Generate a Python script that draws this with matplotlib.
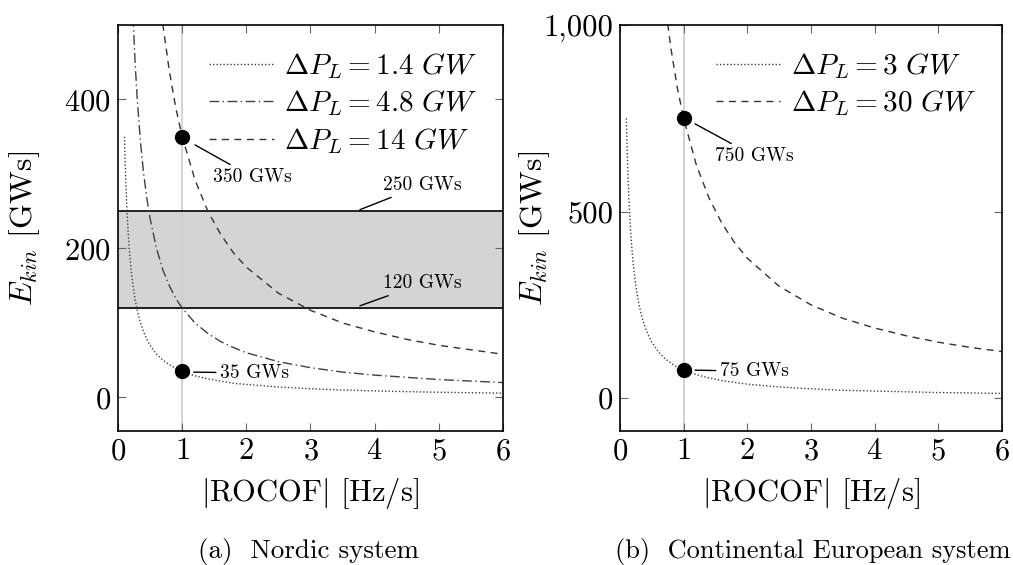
import matplotlib
matplotlib.use("Agg")
import matplotlib.pyplot as plt

plt.rcParams['font.family'] = 'serif'
plt.rcParams['font.serif'] = ['cmr10', 'DejaVu Serif']
plt.rcParams['mathtext.fontset'] = 'cm'
plt.rcParams['axes.formatter.use_mathtext'] = True

# |ROCOF| sample points [Hz/s]
rocof = [0.1, 0.12, 0.14, 0.16, 0.18, 0.2, 0.22, 0.24, 0.27, 0.3, 0.35, 0.4, 0.45, 0.5,
         0.6, 0.7, 0.8, 0.9, 1.0, 1.2, 1.4, 1.6, 1.8, 2.0, 2.5, 3.0, 3.5, 4.0, 4.5, 5.0, 5.5, 6.0]

# Nordic system, E_kin [GWs]
nordic_1_4 = [350, 292, 250, 219, 194, 175, 159, 146, 130, 117, 100, 88, 78, 70,
              58, 50, 44, 39, 35, 29, 25, 22, 19, 17.5, 14, 11.7, 10, 8.8, 7.8, 7, 6.4, 5.8]
nordic_4_8 = [1200, 1000, 857, 750, 667, 600, 545, 500, 444, 400, 343, 300, 267, 240,
              200, 171, 150, 133, 120, 100, 86, 75, 67, 60, 48, 40, 34, 30, 27, 24, 22, 20]
nordic_14 = [3500, 2917, 2500, 2188, 1944, 1750, 1591, 1458, 1296, 1167, 1000, 875, 778, 700,
             583, 500, 438, 389, 350, 292, 250, 219, 194, 175, 140, 117, 100, 88, 78, 70, 64, 58]

# Continental European system, E_kin [GWs]
ce_3 = [750, 625, 536, 469, 417, 375, 341, 313, 278, 250, 214, 188, 167, 150,
        125, 107, 94, 83, 75, 63, 54, 47, 42, 37.5, 30, 25, 21, 19, 17, 15, 14, 12.5]
ce_30 = [7500, 6250, 5357, 4688, 4167, 3750, 3409, 3125, 2778, 2500, 2143, 1875, 1667, 1500,
         1250, 1071, 938, 833, 750, 625, 536, 469, 417, 375, 300, 250, 214, 188, 167, 150, 136, 125]

band = [120, 250]
nordic_pts = [35, 350]
ce_pts = [75, 750]

fig = plt.figure(figsize=(10.13, 5.65), dpi=100)
ax1 = fig.add_axes([0.1165, 0.2372, 0.38, 0.7186])
ax2 = fig.add_axes([0.612, 0.2372, 0.377, 0.7186])

tick_fs = 22
lab_fs = 22

dotted = (0, (1, 1.5))
dashdot = (0, (7, 2.5, 1, 2.5))
dashed = (0, (5, 4))

leg = dict(loc='upper right', frameon=False, fontsize=21, handlelength=2.2,
           borderaxespad=0.6, borderpad=0.3, labelspacing=0.25, handletextpad=0.35)

# ---- (a) Nordic
ax1.axhspan(band[0], band[1], color='0.83', zorder=0)
ax1.axhline(band[0], color='black', lw=1.2)
ax1.axhline(band[1], color='black', lw=1.2)
ax1.axvline(1, color='0.8', lw=1.2, zorder=1)
ax1.plot(rocof, nordic_1_4, ls=dotted, color='0.25', lw=1, label=r'$\Delta P_L = 1.4\ GW$')
ax1.plot(rocof, nordic_4_8, ls=dashdot, color='0.25', lw=1, label=r'$\Delta P_L = 4.8\ GW$')
ax1.plot(rocof, nordic_14, ls=dashed, color='0.2', lw=1, label=r'$\Delta P_L = 14\ GW$')
ax1.plot([1, 1], nordic_pts, 'o', color='black', ms=10, zorder=5)
ax1.set_xlim(0, 6)
ax1.set_ylim(-45, 500)
ax1.set_yticks([0, 200, 400])
ax1.legend(**leg)

ann = dict(fontsize=14, ha='left', va='center',
           arrowprops=dict(arrowstyle='-', color='black', lw=1, shrinkA=1, shrinkB=0))
ax1.annotate('350 GWs', xy=(1.2, 339), xytext=(1.48, 296), **ann)
ax1.annotate('35 GWs', xy=(1.18, 34), xytext=(1.59, 33), **ann)
ax1.annotate('250 GWs', xy=(3.77, 252), xytext=(4.13, 285), **ann)
ax1.annotate('120 GWs', xy=(3.77, 123), xytext=(4.13, 153), **ann)

# ---- (b) Continental European
ax2.axvline(1, color='0.8', lw=1.2, zorder=1)
ax2.plot(rocof, ce_3, ls=dotted, color='0.25', lw=1, label=r'$\Delta P_L = 3\ GW$')
ax2.plot(rocof, ce_30, ls=dashed, color='0.2', lw=1, label=r'$\Delta P_L = 30\ GW$')
ax2.plot([1, 1], ce_pts, 'o', color='black', ms=10, zorder=5)
ax2.set_xlim(0, 6)
ax2.set_ylim(-88, 1000)
ax2.set_yticks([0, 500, 1000])
ax2.set_yticklabels(['0', '500', '1,000'])
ax2.legend(**leg)
ax2.annotate('750 GWs', xy=(1.18, 735), xytext=(1.49, 649), **ann)
ax2.annotate('75 GWs', xy=(1.18, 75), xytext=(1.57, 72), **ann)

for ax in (ax1, ax2):
    ax.set_xticks(range(7))
    ax.tick_params(direction='in', top=True, right=True, length=6, width=0.8,
                   labelsize=tick_fs, color='0.4', pad=5)
    for s in ax.spines.values():
        s.set_linewidth(1.2)
    ax.set_xlabel(r'$|$ROCOF$|$ [Hz/s]', fontsize=lab_fs, labelpad=8)
    ax.set_ylabel(r'$E_{kin}$ [GWs]', fontsize=23)

ax1.yaxis.set_label_coords(-0.197, 0.5)
ax2.yaxis.set_label_coords(-0.178, 0.5)

fig.text(0.305, 0.012, '(a)  Nordic system', ha='center', fontsize=19.5)
fig.text(0.802, 0.012, '(b)  Continental European system', ha='center', fontsize=19)

fig.savefig('out.png', dpi=100)
